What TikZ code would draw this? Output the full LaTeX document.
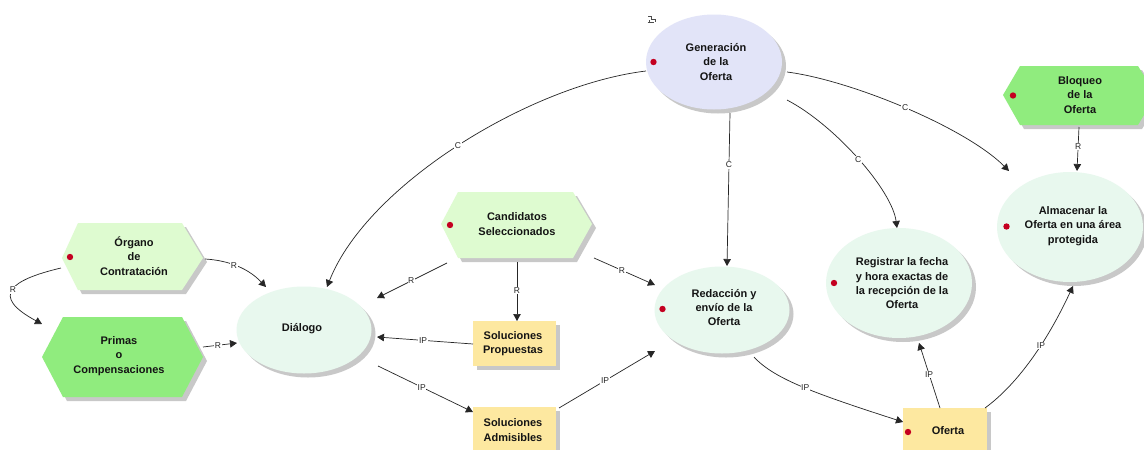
\documentclass[tikz,border=0pt]{standalone}
\usepackage{fontspec}
\setmainfont{Liberation Sans}
\usetikzlibrary{arrows.meta,calc,shadows,shapes.geometric}
\definecolor{hexlight}{RGB}{222,251,208}
\definecolor{hexstrong}{RGB}{144,236,126}
\definecolor{ellgreen}{RGB}{232,248,238}
\definecolor{ellblue}{RGB}{226,228,248}
\definecolor{boxyellow}{RGB}{253,232,160}
\definecolor{shadegray}{RGB}{200,200,200}
\definecolor{dotred}{RGB}{196,0,32}
\definecolor{inktext}{RGB}{20,20,20}
\tikzset{
  castshadow/.style={drop shadow={shadow xshift=4pt,shadow yshift=-4pt,fill=shadegray,opacity=1}},
  ellnode/.style={ellipse,inner sep=0pt,outer sep=0pt,castshadow},
  boxnode/.style={rectangle,inner sep=0pt,outer sep=0pt,fill=boxyellow,castshadow},
  txt/.style={font=\bfseries\fontsize{11}{14.3}\selectfont,align=center,text=inktext,inner sep=0pt,outer sep=0pt},
  lab/.style={font=\fontsize{8.5}{10}\selectfont,fill=white,inner sep=0.6pt,text=black!85},
  conn/.style={draw=black!85,line width=0.7pt,-{Triangle[length=7pt,width=7.5pt]}},
  dot/.style={fill=dotred},
}
\newcommand{\reddot}[2]{\fill[dot] (#1,#2) circle (3.2pt);}
\begin{document}
\begin{tikzpicture}[x=1pt,y=-1pt]
\path[use as bounding box,fill=white] (0,0) rectangle (1144,450);
\begin{scope}
\clip (0,0) rectangle (1144,450);
% small icon above the blue ellipse
\draw[black!70,line width=0.6pt] (648,16) -- (651,16) -- (651,20) (647.5,22.5) -- (654,22.5) (649,20) -- (649,22.5) (652,19.5) -- (655,19.5) -- (655,22);
% hexagons
\fill[hexlight,castshadow] (62,258) -- (78,223) -- (182,223) -- (203,258) -- (182,290) -- (78,290) -- cycle;
\fill[hexstrong,castshadow] (42,357) -- (63,317) -- (182,317) -- (203,357) -- (182,397) -- (63,397) -- cycle;
\fill[hexlight,castshadow] (441,224) -- (458,192) -- (573,192) -- (592,224) -- (573,258) -- (458,258) -- cycle;
\fill[hexstrong,castshadow] (1003,95) -- (1020,66) -- (1138,66) -- (1156,95) -- (1138,125) -- (1020,125) -- cycle;
% ellipses
\node[ellnode,fill=ellgreen,minimum width=135pt,minimum height=87pt] (dlg) at (304,330) {};
\node[ellnode,fill=ellblue,minimum width=136pt,minimum height=95pt] (gen) at (714,62) {};
\node[ellnode,fill=ellgreen,minimum width=146pt,minimum height=110pt] (alm) at (1070,227) {};
\node[ellnode,fill=ellgreen,minimum width=146pt,minimum height=110pt] (reg) at (899,283) {};
\node[ellnode,fill=ellgreen,minimum width=135pt,minimum height=87pt] (red) at (722,310) {};
% boxes
\node[boxnode,minimum width=83pt,minimum height=45pt] (prop) at (514.5,343.5) {};
\node[boxnode,minimum width=83pt,minimum height=50pt] (adm) at (514.5,432) {};
\node[boxnode,minimum width=84pt,minimum height=50pt] (ofe) at (945,433) {};
% texts
\node[txt] (org) at (134,256) {Órgano\\de\\Contratación};
\node[txt] (pri) at (119,356) {Primas\\o\\Compensaciones};
\node[txt] (cand) at (517,224) {Candidatos\\Seleccionados};
\node[txt] (blo) at (1080,95) {Bloqueo\\de la\\Oferta};
\node[txt] (dlgt) at (302,329) {Diálogo};
\node[txt] (gent) at (716,62) {Generación\\de la\\Oferta};
\node[txt] (almt) at (1073,226) {Almacenar la\\Oferta en una área\\protegida};
\node[txt] (regt) at (902,283.5) {Registrar la fecha\\y hora exactas de\\la recepción de la\\Oferta};
\node[txt] (redt) at (724,307.5) {Redacción y\\envío de la\\Oferta};
\node[txt] (propt) at (513,344) {Soluciones\\Propuestas};
\node[txt] (admt) at (513,430) {Soluciones\\Admisibles};
\node[txt] (ofet) at (948,431) {Oferta};
% red markers
\reddot{70}{257}
\reddot{450}{225}
\reddot{662.5}{309}
\reddot{653.5}{62}
\reddot{1013}{95.5}
\reddot{1006.5}{226.5}
\reddot{834}{283}
\reddot{908}{432}
% connectors
\draw[conn] ($(org)+(-73,12)$) .. controls (10,280) and (-10,296) .. node[lab,pos=.5] {R} ($(pri)+(-77,-32)$);
\draw[conn] ($(org)+(71,3)$) .. controls (222,260) and (245,265) .. node[lab,pos=.5] {R} ($(dlg)+(-38,-43)$);
\draw[conn] ($(pri)+(84,-9)$) -- node[lab,pos=.44] {R} ($(dlg)+(-67,13)$);
\draw[conn] ($(gen)+(-68,9)$) .. controls (530,85) and (367,185) .. node[lab,pos=.5] {C} ($(dlg)+(23,-43)$);
\draw[conn] ($(gen)+(16,51)$) -- node[lab,pos=.34] {C} ($(red)+(5,-44)$);
\draw[conn] ($(gen)+(73,38)$) .. controls (835,125) and (892,190) .. node[lab,pos=.5] {C} ($(reg)+(-2,-55)$);
\draw[conn] ($(gen)+(73,10)$) .. controls (850,80) and (965,127) .. node[lab,pos=.5] {C} ($(alm)+(-61,-56)$);
\draw[conn] ($(blo)+(-1,32)$) -- node[lab,pos=.45] {R} ($(alm)+(7,-56)$);
\draw[conn] ($(cand)+(-70,39)$) -- node[lab,pos=.51] {R} ($(dlg)+(73,-32)$);
\draw[conn] ($(cand)+(0,38)$) -- node[lab,pos=.49] {R} ($(prop)+(2.5,-22.5)$);
\draw[conn] ($(cand)+(77,34)$) -- node[lab,pos=.46] {R} ($(red)+(-67,-25)$);
\draw[conn] ($(prop)+(-41.5,0.5)$) -- node[lab,pos=.52] {IP} ($(dlg)+(73,7)$);
\draw[conn] ($(dlg)+(74,36)$) -- node[lab,pos=.46] {IP} ($(adm)+(-41.5,-20)$);
\draw[conn] ($(adm)+(44.5,-24)$) -- node[lab,pos=.48] {IP} ($(red)+(-67,41)$);
\draw[conn] ($(red)+(32,47)$) .. controls (775,380) and (820,395) .. node[lab,pos=.5] {IP} ($(ofe)+(-42,-11)$);
\draw[conn] ($(ofe)+(-5,-25)$) -- node[lab,pos=.52] {IP} ($(reg)+(20,60)$);
\draw[conn] ($(ofe)+(40,-25)$) .. controls (1030,375) and (1060,314) .. node[lab,pos=.5] {IP} ($(alm)+(3,59)$);
\end{scope}
\end{tikzpicture}
\end{document}
